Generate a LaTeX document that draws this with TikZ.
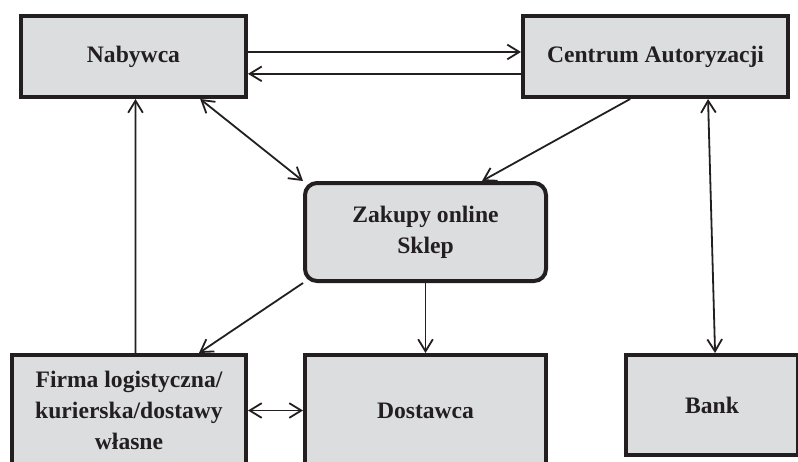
\documentclass[tikz,border=0pt]{standalone}
\usepackage{fontspec}
\setmainfont{Liberation Serif}
\usetikzlibrary{arrows.meta}

\definecolor{boxgray}{RGB}{220,221,223}
\definecolor{inkdark}{RGB}{35,31,32}

\tikzset{
  block/.style={rectangle, draw=inkdark, fill=boxgray, line width=3pt, inner sep=0pt,
    align=center, text=inkdark, font=\fontsize{17.7}{23.25}\selectfont\bfseries},
  shop/.style={block, rounded corners=9pt},
}

\begin{document}
\begin{tikzpicture}[x=0.75pt, y=-0.75pt, >={Straight Barb[length=9pt,width=11pt]}, line width=1.35pt, draw=inkdark]
  \useasboundingbox (0,0) rectangle (798,461);
  \clip (0,0) rectangle (798,461);

  \node (nab) [block, minimum width=168.75pt, minimum height=60.75pt] at (133.5,56.5) {Nabywca};
  \node (cen) [block, minimum width=198.75pt, minimum height=60.75pt] at (655.5,56.5) {Centrum Autoryzacji};
  \node (zak) [shop, minimum width=180.75pt, minimum height=73.5pt] at (425.5,232) {Zakupy online\\Sklep};
  \node (fir) [block, minimum width=175.5pt, minimum height=83.25pt] at (129,410.5) {Firma logistyczna/\\kurierska/dostawy\\własne};
  \node (dos) [block, minimum width=180.75pt, minimum height=83.25pt] at (425.5,410.5) {Dostawca};
  \node (bank) [block, minimum width=129pt, minimum height=75pt] at (712,405) {Bank};

  % Top pair of arrows
  \draw[->] ([yshift=3.4pt]nab.east) -- ([yshift=3.4pt]cen.west);
  \draw[->] ([yshift=-13pt]cen.west) -- ([yshift=-13pt]nab.east);

  % Arrows around the shop
  \draw[<->] ([xshift=50pt]nab.south) -- (zak.north west);
  \draw[->] ([xshift=-19pt]cen.south) -- ([xshift=42.4pt]zak.north);
  \draw[->] (zak.south west) -- ([xshift=52.5pt]fir.north);
  \draw[->] (zak.south) -- (dos.north);

  % Remaining links
  \draw[<->] ([xshift=39.4pt]cen.south) -- ([xshift=2.3pt]bank.north);
  \draw[->] ([xshift=4.9pt]fir.north) -- ([xshift=1.5pt]nab.south);
  \draw[<->] (fir.east) -- (dos.west);
\end{tikzpicture}
\end{document}
